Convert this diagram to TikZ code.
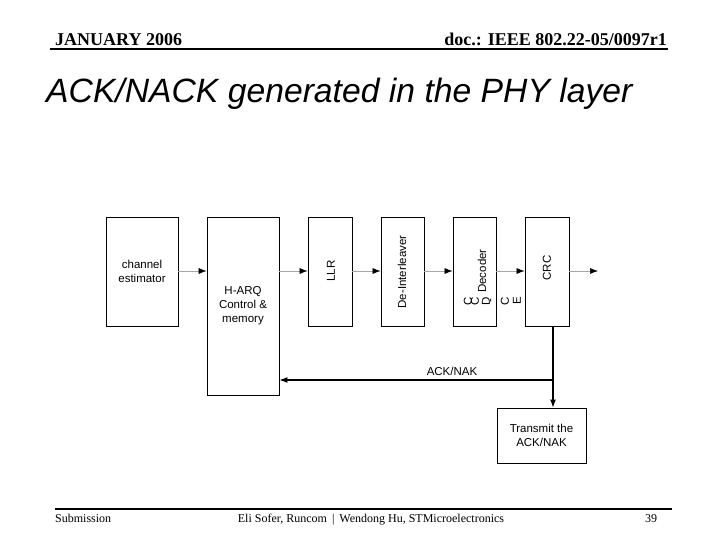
\documentclass[tikz,border=0pt]{standalone}
\usepackage{fontspec}
\setmainfont{Liberation Serif}
\newfontfamily\arialf{Liberation Sans}
\usetikzlibrary{arrows.meta}
\begin{document}
\begin{tikzpicture}[x=1pt,y=-1pt,
  blk/.style={draw=black,line width=0.8pt,inner sep=0pt,font=\arialf\fontsize{11.5}{14}\selectfont,align=center},
  flow/.style={draw=gray!70,line width=0.6pt,-{Latex[black,length=8pt,width=6pt]}},
  fb/.style={draw=black,line width=1.1pt},
  fba/.style={fb,-{Latex[black,length=8pt,width=6pt]}},
  lbl/.style={font=\arialf\fontsize{11.5}{14}\selectfont,inner sep=0pt}]
\useasboundingbox (0,0) rectangle (720,540);
% header
\node[anchor=base west,inner sep=0pt,font=\bfseries\fontsize{18}{20}\selectfont] (hd1) at (55,46) {JANUARY 2006};
\node[anchor=base east,inner sep=0pt,font=\bfseries\fontsize{18}{20}\selectfont] (hd2) at (667,46) {doc.: IEEE 802.22-05/0097r1};
\draw[line width=2pt] (50,49) -- (668,49);
\node[anchor=base west,inner sep=0pt,font=\arialf\itshape\fontsize{33.7}{36}\selectfont] (title) at (46,103) {ACK/NACK generated in the PHY layer};
% footer
\draw[line width=2pt] (55,509) -- (672,509);
\node[anchor=base west,inner sep=0pt,font=\fontsize{12}{14}\selectfont] (f1) at (55,522) {Submission};
\node[anchor=base,inner sep=0pt,font=\fontsize{12}{14}\selectfont] (f2) at (371,522) {Eli Sofer, Runcom \,|\, Wendong Hu, STMicroelectronics};
\node[anchor=base,inner sep=0pt,font=\fontsize{12}{14}\selectfont] (f3) at (651,522) {39};
% blocks
\node[blk,minimum width=72pt,minimum height=109pt] (ce) at (142,271.5) {channel\\estimator};
\node[blk,minimum width=72pt,minimum height=178pt] (harq) at (243,306) {};
\node[lbl,align=center] (harqt) at (243,306) {H-ARQ\\Control \&\\memory};
\node[blk,minimum width=44pt,minimum height=109pt] (llr) at (330,271.5) {};
\node[lbl,rotate=90] (llrt) at (331,271) {LLR};
\node[blk,minimum width=43pt,minimum height=109pt] (dei) at (402.5,271.5) {};
\node[lbl,rotate=90] (deit) at (402,272) {De-Interleaver};
\node[blk,minimum width=43pt,minimum height=109pt] (dec) at (474.5,271.5) {};
\node[lbl,rotate=90] (dect) at (482,271) {Decoder};
\node[blk,minimum width=44pt,minimum height=109pt] (crc) at (547,271.5) {};
\node[lbl,rotate=90] (crct) at (547,268) {CRC};
\node[blk,minimum width=89pt,minimum height=55pt] (tx) at (541.5,435.5) {Transmit the\\ACK/NAK};
% stray rotated glyphs
\foreach \xx/\ch [count=\i] in {468/C,475/C,486/D,492/-,505/C,517/E}
  \node[lbl,rotate=90] (g\i) at (\xx,301) {\ch};
% connectors
\coordinate (out) at (598,271);
\coordinate (j) at (553,380);
\coordinate (crcb) at (553,326);
\draw[flow] (ce.east |- 0,271) -- (harq.west |- 0,271);
\draw[flow] (harq.east |- 0,271) -- (llr.west |- 0,271);
\draw[flow] (llr.east |- 0,271) -- (dei.west |- 0,271);
\draw[flow] (dei.east |- 0,271) -- (dec.west |- 0,271);
\draw[flow] (dec.east |- 0,271) -- (crc.west |- 0,271);
\draw[flow] (crc.east |- 0,271) -- (out);
\draw[fb] (crcb) -- (j);
\draw[fba] (j) -- (harq.east |- j);
\draw[fba] (j) -- (tx.north -| j);
\node[lbl] (ackl) at (452,371) {ACK/NAK};
\end{tikzpicture}
\end{document}
